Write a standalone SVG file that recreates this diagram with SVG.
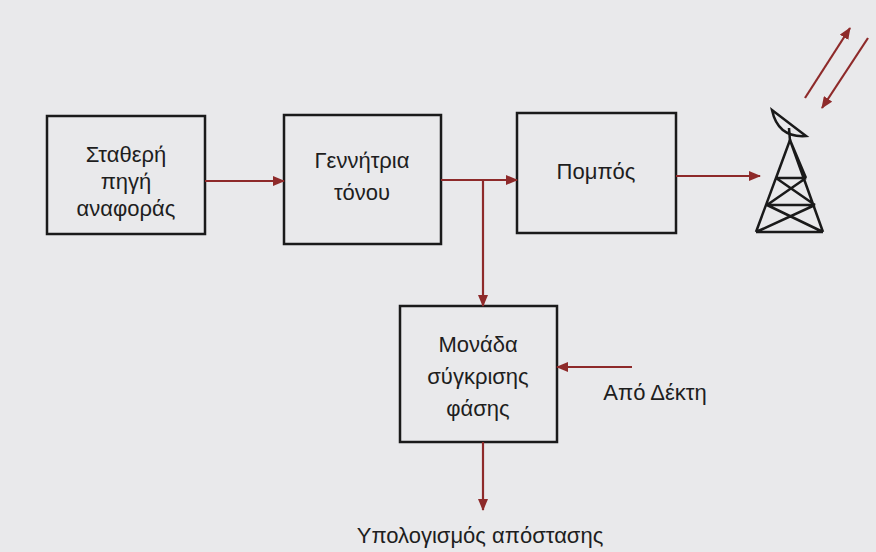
<svg xmlns="http://www.w3.org/2000/svg" width="876" height="552" viewBox="0 0 876 552">
<defs>
<style>
.box{fill:none;stroke:#1a1a1a;stroke-width:2.5}
.t{font-family:"Liberation Sans",Arial,sans-serif;font-size:22px;fill:#1e1e1e;text-anchor:middle}
.c{stroke:#8e2a2a;stroke-width:2.2;fill:none}
.tw{stroke:#1a1a1a;stroke-width:2.5;fill:none}
</style>
<marker id="a" markerWidth="12" markerHeight="10" refX="11" refY="5" orient="auto" markerUnits="userSpaceOnUse">
<path d="M0,0 L12,5 L0,10 Z" fill="#8e2a2a"/>
</marker>
</defs>
<rect width="876" height="552" fill="#e9e9eb"/>
<g id="n1"><rect class="box" x="47" y="116" width="158" height="118"/>
<text class="t" x="126" y="162">Σταθερή</text><text class="t" x="126" y="189">πηγή</text><text class="t" x="126" y="216">αναφοράς</text></g>
<g id="n2"><rect class="box" x="284" y="115" width="157" height="129"/>
<text class="t" x="362" y="168">Γεννήτρια</text><text class="t" x="362" y="200">τόνου</text></g>
<g id="n3"><rect class="box" x="517" y="113" width="159" height="120"/>
<text class="t" x="596" y="179">Πομπός</text></g>
<g id="n4"><rect class="box" x="400" y="306" width="157" height="136"/>
<text class="t" x="478" y="352">Μονάδα</text><text class="t" x="478" y="384">σύγκρισης</text><text class="t" x="478" y="416">φάσης</text></g>
<g id="tower">
<path class="tw" d="M790,140 L756,232 M790,140 L823,232 M776,178 L806,178 M767,205 L815,205 M756,232 L823,232 M776,178 L815,205 M806,178 L767,205 M767,205 L823,232 M815,205 L756,232 M790,140 L806,178 M790,140 L776,178"/>
<path class="tw" d="M772,110 Q778,138 806,136 Z" fill="#e9e9eb"/>
<line class="tw" x1="789" y1="128" x2="790" y2="141"/>
</g>
<g id="connectors">
<line class="c" x1="205" y1="181" x2="284" y2="181" marker-end="url(#a)"/>
<line class="c" x1="441" y1="180" x2="517" y2="180" marker-end="url(#a)"/>
<line class="c" x1="483" y1="180" x2="483" y2="306" marker-end="url(#a)"/>
<line class="c" x1="676" y1="176" x2="760" y2="176" marker-end="url(#a)"/>
<line class="c" x1="632" y1="367" x2="557" y2="367" marker-end="url(#a)"/>
<line class="c" x1="483" y1="442" x2="483" y2="510" marker-end="url(#a)"/>
<line class="c" x1="805" y1="98" x2="850" y2="28" marker-end="url(#a)"/>
<line class="c" x1="868" y1="38" x2="822" y2="108" marker-end="url(#a)"/>
</g>
<text class="t" x="655" y="400">Από Δέκτη</text>
<text class="t" x="480" y="543">Υπολογισμός απόστασης</text>
</svg>
